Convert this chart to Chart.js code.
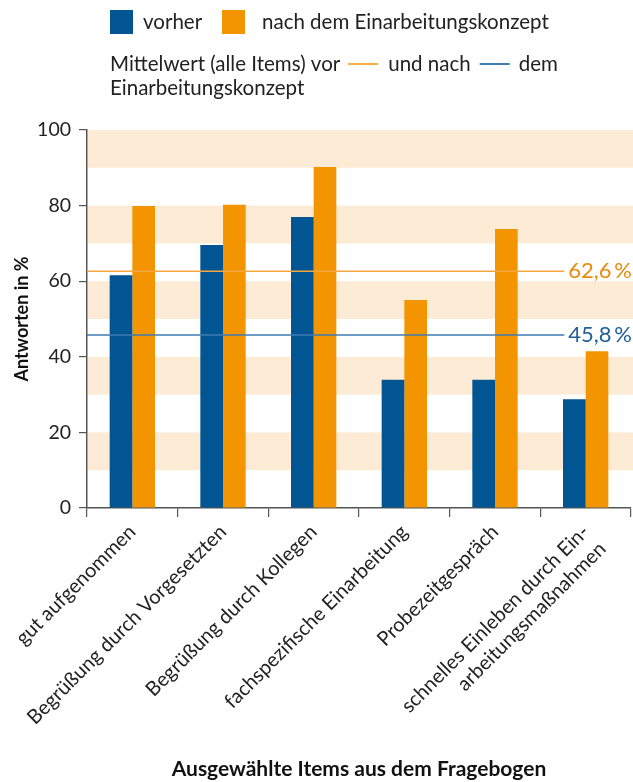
<!DOCTYPE html>
<html>
<head>
<meta charset="utf-8">
<script src="https://cdn.jsdelivr.net/npm/chart.js@4"></script>
<style>
  html, body { margin: 0; padding: 0; background: #fff; }
  #wrap { width: 633px; height: 782px; }
</style>
</head>
<body>
<div id="wrap"><canvas id="chart" width="633" height="782"></canvas></div>
<script>
// chart data
const categories = [
    "gut aufgenommen",
    "Begrüßung durch Vorgesetzten",
    "Begrüßung durch Kollegen",
    "fachspezifische Einarbeitung",
    "Probezeitgespräch",
    ["schnelles Einleben durch Ein-", "arbeitungsmaßnahmen"]
];
const vorher = [61.6, 69.6, 77.0, 33.9, 33.9, 28.8];
const nachher = [79.9, 80.2, 90.2, 55.0, 73.8, 41.5];
const yTicks = [0, 20, 40, 60, 80, 100];
const bands = [[10, 20], [30, 40], [50, 60], [70, 80], [90, 100]];
const meanNach = 62.6;
const meanVor = 45.8;

const BLUE = '#005592';
const ORANGE = '#F39500';
const BAND = '#FDEBD6';
const FONT = 'Lato, "Open Sans", sans-serif';

// shaded bands behind the bars + mean lines
const backdrop = {
    id: 'backdrop',
    beforeDatasetsDraw(chart) {
        const ctx = chart.ctx, y = chart.scales.y, a = chart.chartArea;
        ctx.save();
        ctx.fillStyle = BAND;
        bands.forEach(b => {
            const top = y.getPixelForValue(b[1]);
            const bot = y.getPixelForValue(b[0]);
            ctx.fillRect(a.left + 1, top, chart.width - a.left, bot - top);
        });
        ctx.restore();
    },
    afterDatasetsDraw(chart) {
        const ctx = chart.ctx, y = chart.scales.y, a = chart.chartArea;
        ctx.save();
        ctx.font = '22px ' + FONT;
        ctx.textAlign = 'right';
        ctx.textBaseline = 'middle';
        const lines = [[meanNach, '#F5A640', '#E88A0E'], [meanVor, '#3F7BB0', '#1F5F99']];
        lines.forEach(l => {
            const py = y.getPixelForValue(l[0]);
            const txt = l[0].toFixed(1).replace('.', ',') + '\u2009%';
            const w = ctx.measureText(txt).width;
            ctx.strokeStyle = l[1];
            ctx.lineWidth = 1.5;
            ctx.beginPath();
            ctx.moveTo(a.left, py);
            ctx.lineTo(631 - w - 3, py);
            ctx.stroke();
            ctx.fillStyle = l[2];
            ctx.fillText(txt, 632, py);
        });
        ctx.restore();
    }
};

// custom legend at the top
const topLegend = {
    id: 'topLegend',
    afterDraw(chart) {
        const ctx = chart.ctx;
        ctx.save();
        ctx.font = '20.5px ' + FONT;
        ctx.textBaseline = 'middle';
        ctx.fillStyle = BLUE;
        ctx.fillRect(110, 10, 23, 24);
        ctx.fillStyle = ORANGE;
        ctx.fillRect(222, 10, 23, 24);
        ctx.fillStyle = '#222';
        ctx.fillText('vorher', 143, 22);
        ctx.fillText('nach dem Einarbeitungskonzept', 262, 22);

        let x = 110;
        const y2 = 64;
        const t1 = 'Mittelwert (alle Items) vor';
        ctx.fillText(t1, x, y2);
        x += ctx.measureText(t1).width + 8;
        ctx.lineWidth = 1.5;
        ctx.strokeStyle = ORANGE;
        ctx.beginPath(); ctx.moveTo(x, y2); ctx.lineTo(x + 30, y2); ctx.stroke();
        x += 40;
        const t2 = 'und nach';
        ctx.fillText(t2, x, y2);
        x += ctx.measureText(t2).width + 9;
        ctx.strokeStyle = BLUE;
        ctx.beginPath(); ctx.moveTo(x, y2); ctx.lineTo(x + 30, y2); ctx.stroke();
        x += 39;
        ctx.fillText('dem', x, y2);
        ctx.fillText('Einarbeitungskonzept', 110, 88);
        ctx.restore();
    }
};

new Chart(document.getElementById('chart'), {
    type: 'bar',
    data: {
        labels: categories,
        datasets: [
            { label: 'vorher', data: vorher, backgroundColor: BLUE },
            { label: 'nach dem Einarbeitungskonzept', data: nachher, backgroundColor: ORANGE }
        ]
    },
    options: {
        responsive: false,
        animation: false,
        layout: { padding: { top: 130, right: 2, left: 0, bottom: 0 } },
        datasets: { bar: { categoryPercentage: 0.5, barPercentage: 1.0 } },
        plugins: { legend: { display: false }, tooltip: { enabled: false } },
        scales: {
            x: {
                grid: { offset: true, drawOnChartArea: false, tickLength: 9, color: '#555', lineWidth: 1.2 },
                border: { color: '#555', width: 1.5 },
                ticks: { maxRotation: 45, minRotation: 45, color: '#222', padding: 3,
                         font: { family: FONT, size: 20 } },
                title: { display: true, text: 'Ausgewählte Items aus dem Fragebogen', color: '#111',
                         font: { family: FONT, size: 21, weight: 'bold' }, padding: { top: 0, bottom: 0 } },
                afterFit(scale) { scale.height = 274; }
            },
            y: {
                min: 0, max: 100,
                afterBuildTicks(scale) { scale.ticks = yTicks.map(v => ({ value: v })); },
                grid: { drawOnChartArea: false, tickLength: 8, color: '#555', lineWidth: 1.2 },
                border: { color: '#555', width: 1.5 },
                ticks: { color: '#222', padding: 8, font: { family: FONT, size: 19.5 } },
                title: { display: true, text: 'Antworten in %', color: '#111',
                         font: { family: FONT, size: 18, weight: 'bold' }, padding: { top: 11, bottom: 0 } },
                afterFit(scale) { scale.width = 87; }
            }
        }
    },
    plugins: [backdrop, topLegend]
});
</script>
</body>
</html>
